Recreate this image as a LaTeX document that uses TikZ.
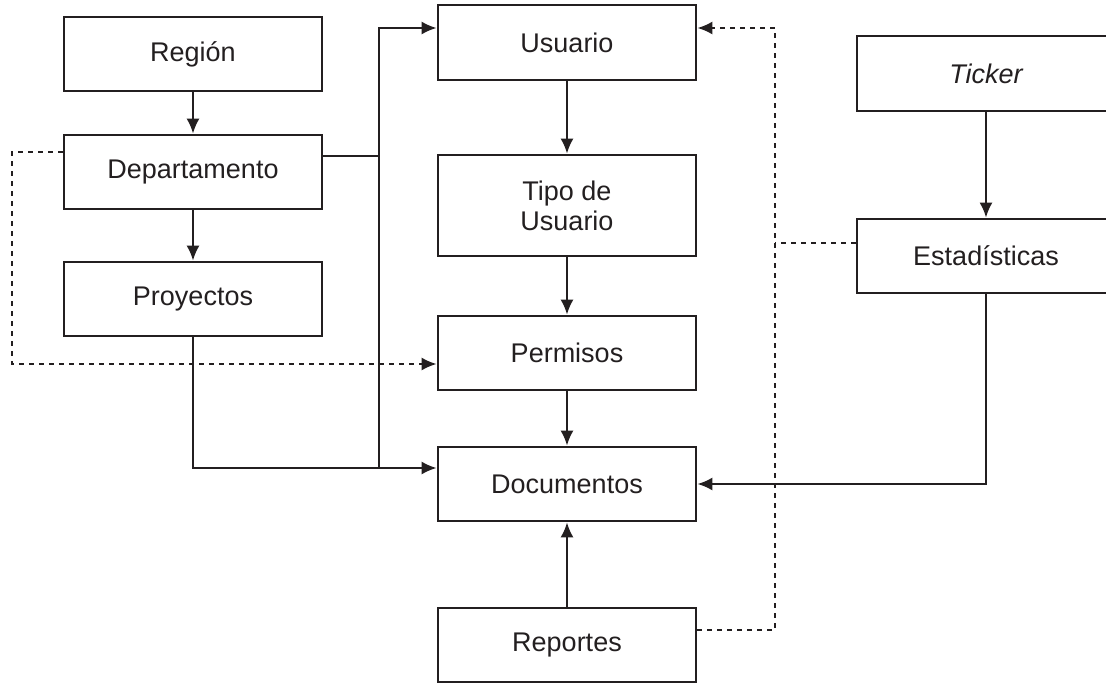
\documentclass[tikz,border=0pt]{standalone}
\usepackage{fontspec}
\setmainfont{Liberation Sans}
\usetikzlibrary{arrows.meta}
\definecolor{ink}{HTML}{231F20}
\begin{document}
\begin{tikzpicture}[x=1pt,y=-1pt,
  box/.style={draw=ink, line width=2.6pt, minimum width=258pt, minimum height=74pt,
    inner sep=0pt, align=center, text=ink, font=\fontsize{27}{30}\selectfont},
  conn/.style={draw=ink, line width=2.3pt},
  arr/.style={conn, -{Latex[length=15pt,width=13pt]}},
  dline/.style={conn, dash pattern=on 5pt off 5pt},
  darr/.style={dline, -{Latex[length=15pt,width=13pt]}}]
  \useasboundingbox (0,0) rectangle (1106,684);
  \clip (0,0) rectangle (1106,684);

  % left column
  \node[box] (region) at (193,54) {Región};
  \node[box] (depto) at (193,172) {Departamento};
  \node[box] (proy) at (193,299) {Proyectos};

  % middle column
  \node[box, minimum height=75pt] (usuario) at (567,42.5) {Usuario};
  \node[box, minimum height=101pt] (tipo) at (567,205.5) {Tipo de\\Usuario};
  \node[box] (permisos) at (567,353) {Permisos};
  \node[box] (docs) at (567,484) {Documentos};
  \node[box] (reportes) at (567,645) {Reportes};

  % right column
  \node[box, minimum height=75pt] (ticker) at (986,73.5) {\itshape Ticker};
  \node[box] (estad) at (986,256) {Estadísticas};

  % junction points
  \coordinate (j1) at (379,156);
  \coordinate (j2) at (379,468);
  \coordinate (d1) at (12,152);
  \coordinate (d2) at (775,243);
  \coordinate (d3) at (775,28);

  % solid connectors
  \draw[arr] (region) -- (depto);
  \draw[arr] (depto) -- (proy);
  \draw[arr] ([yshift=16pt]depto.east) -- (j1) |- ([yshift=14.5pt]usuario.west);
  \draw[conn] (j1) -- (j2);
  \draw[arr] (proy.south) |- ([yshift=16pt]docs.west);
  \draw[arr] (usuario) -- (tipo);
  \draw[arr] (tipo) -- (permisos);
  \draw[arr] (permisos) -- (docs);
  \draw[arr] (reportes) -- (docs);
  \draw[arr] (ticker) -- (estad);
  \draw[arr] (estad.south) |- (docs.east);

  % dashed connectors
  \draw[darr] ([yshift=20pt]depto.west) -- (d1) |- ([yshift=-11pt]permisos.west);
  \draw[dline] ([yshift=13pt]estad.west) -- (d2);
  \draw[darr] ([yshift=15pt]reportes.east) -| (d3) -- ([yshift=14.5pt]usuario.east);
\end{tikzpicture}
\end{document}
